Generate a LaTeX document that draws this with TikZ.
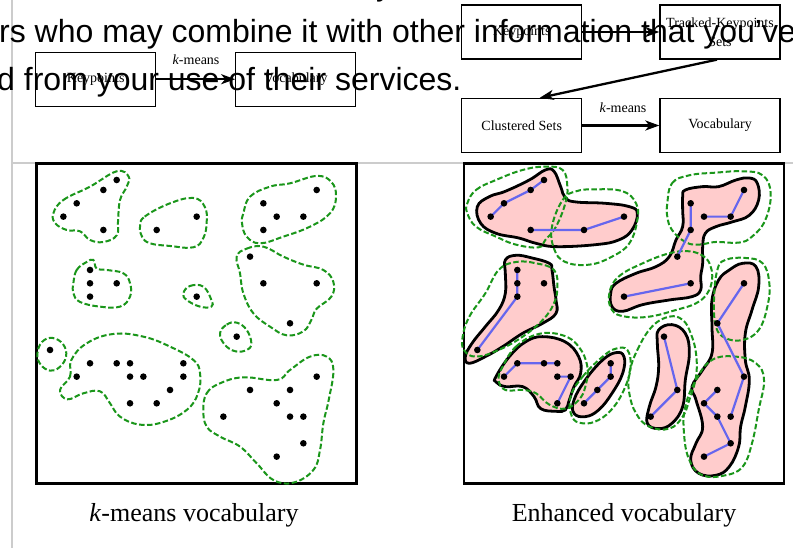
\documentclass[tikz,border=0pt]{standalone}
\usepackage{fontspec}
\setmainfont{Liberation Serif}
\newfontfamily\websans{Liberation Sans}
\usetikzlibrary{arrows.meta,calc}

\definecolor{pinkfill}{RGB}{255,204,204}
\definecolor{dgreen}{RGB}{26,150,26}
\definecolor{blueln}{RGB}{102,102,238}
\definecolor{rulegray}{RGB}{204,204,204}

\tikzset{
 flowbox/.style={draw, line width=1.3pt, minimum width=120pt, minimum height=54pt, inner sep=0pt, font=\fontsize{14}{19}\selectfont, align=center},
 flowarrow/.style={line width=2.3pt, -{Stealth[length=14pt,width=10pt,inset=4pt]}},
 panel/.style={line width=2.8pt},
 kclust/.style={dgreen, line width=2pt, dash pattern=on 5.5pt off 2.5pt},
 tset/.style={fill=pinkfill, draw=black, line width=2.8pt},
 chain/.style={blueln, line width=2.2pt},
 webtext/.style={font=\websans\fontsize{32}{36}\selectfont, anchor=base west, inner sep=0pt},
 captext/.style={font=\fontsize{26}{30}\selectfont, anchor=base, inner sep=0pt},
 lbl/.style={font=\fontsize{14}{16}\selectfont, anchor=base, inner sep=0pt},
 blob/.style={smooth cycle, tension=0.7},
}

\begin{document}
\begin{tikzpicture}[x=1pt,y=-1pt]
\useasboundingbox (0,0) rectangle (793,548);
\fill[white] (0,0) rectangle (793,548);

% page rules
\draw[rulegray, line width=2pt] (11.5,0) -- (11.5,548);
\draw[rulegray, line width=2pt] (11.5,163) -- (793,163);

% ---------- top-left flow ----------
\node[flowbox] (kp1) at (95.7,79.2) {Keypoints};
\node[flowbox] (voc1) at (295.8,79.2) {Vocabulary};
\draw[flowarrow] (kp1.east) -- (voc1.west);
\node[lbl] (km1) at (196,65) {\textit{k}-means};

% ---------- top-right flow ----------
\node[flowbox] (kp2) at (521.7,32) {Keypoints};
\node[flowbox] (trk) at (720,32) {Tracked-Keypoints\\Sets};
\node[flowbox] (cls) at (521.7,125.5) {Clustered Sets};
\node[flowbox] (voc2) at (720,125.5) {Vocabulary};
\draw[flowarrow] (kp2.east) -- (trk.west);
\draw[flowarrow] ($(trk.south)+(-3,0)$) -- ($(cls.north)+(18,0)$);
\draw[flowarrow] (cls.east) -- (voc2.west);
\node[lbl] (km2) at (623,113) {\textit{k}-means};

% ---------- left panel ----------
\begin{scope}[shift={(36.7pt,-483.3pt)}, x=13.333pt, y=13.333pt]
\draw[panel] (0,0) rectangle (24,24);
\draw[kclust] plot[blob] coordinates {(1.25,20.25) (2,21.25) (4,22.25) (6,23.4) (6.9,23) (6.75,22.25) (6.25,21.25) (6.1,19.75) (6,18.6) (5,18.1) (4,18.25) (3.25,18.9) (2.25,19) (1.4,19.5)};
\draw[kclust] plot[blob] coordinates {(7.75,19.25) (8.1,20) (10,21) (11.75,21.4) (12.6,20.75) (12.75,19.6) (12.5,18.4) (11.75,17.7) (10,17.8) (8.5,18) (7.9,18.5)};
\draw[kclust] plot[blob] coordinates {(15.5,20.25) (16,21.5) (17.5,22.25) (19,22.5) (21,23.05) (22.1,22.6) (22.45,21.5) (22,20.25) (20.5,19.25) (18.5,18.5) (16.75,18) (15.75,18.5) (15.4,19.5)};
\draw[kclust] plot[blob] coordinates {(2.75,15) (3,16) (3.75,16.6) (4.25,16.75) (4.5,16.1) (5.25,16) (6.5,15.75) (7,15) (7,14) (6.25,13.25) (4.75,13.25) (3.25,13.6) (2.75,14.25)};
\draw[kclust] plot[blob] coordinates {(11,14.25) (11.5,14.8) (12.5,14.75) (13.1,13.75) (13.1,13.25) (12.25,13.25) (11.25,13.75)};
\draw[kclust] plot[blob] coordinates {(15,17) (15.75,17.6) (17,17.75) (18.5,17) (20,16.4) (21.5,16) (22.25,15.1) (22.1,14) (21,13.1) (20.6,12.25) (20,11.4) (18.75,11.1) (17.5,11.75) (16.25,12.75) (15.5,14.25) (15.25,15.75)};
\draw[kclust] plot[blob] coordinates {(13.75,11.25) (14.25,11.9) (15,12.05) (15.75,11.5) (16.1,10.5) (15.75,10) (14.9,9.9) (14.1,10.4)};
\draw[kclust] plot[blob] coordinates {(0.05,9.7) (0.4,10.6) (1.2,10.9) (2,10.4) (2.2,9.5) (1.7,8.7) (1,8.45) (0.3,8.9)};
\draw[kclust] plot[blob] coordinates {(1.75,7) (2.5,8) (2.6,9.25) (3.75,10.5) (5.75,11.2) (8,11) (10,10.25) (11.75,9.25) (12.25,8.25) (12.1,6.75) (11.25,5.5) (9.5,4.6) (7.75,4.4) (6.25,5) (5.5,6) (4.75,6.9) (3.5,6.75) (2.3,6.3)};
\draw[kclust] plot[blob] coordinates {(12.5,5.5) (12.75,6.75) (13.75,7.5) (15.5,7.95) (18,7.75) (19,8.5) (20.5,9.5) (21.75,9.5) (22.25,8.5) (21.9,6.25) (21.5,4.5) (21.25,2.5) (20.75,1) (19.25,0.05) (17.75,0.25) (16.5,1.5) (15.25,2.75) (13.75,3.5) (12.75,4.25)};
\foreach \p in {(6,22.75),(5,22),(3,21),(2,20),(5,19),(9,19),(12,20),(21,22),(17,21),(18,20),(20,20),(17,19),(4,16),(4,15),(6,15),(4,14),(12,14),(16,17),(17,15),(21,15),(19,12),(15,11),(1,10),(4,9),(6,9),(7,9),(11,9),(3,8),(7,8),(8,8),(11,8),(10,7),(7,6),(9,6),(21,8),(16,7),(19,7),(18,6),(14,5),(19,5),(20,5),(20,3),(18,2)}
  \fill \p circle[radius=3.3pt];
\end{scope}

% ---------- right panel ----------
\begin{scope}[shift={(464pt,-483.3pt)}, x=13.333pt, y=13.333pt]
\draw[panel] (0,0) rectangle (24,24);
\draw[tset] plot[blob] coordinates {(1,20.75) (1.9,21.5) (3.1,21.9) (4.9,22.75) (6.1,23.5) (6.75,23.4) (7.25,22.25) (7.6,21.4) (8.4,21.1) (10.6,21) (12.4,20.75) (13,20.25) (12.6,19) (11.6,18.25) (9.9,17.9) (6.9,17.75) (5.4,18) (4.1,18.4) (2.4,18.75) (1.25,19.5)};
\draw[tset] plot[blob] coordinates {(16.6,22) (17.9,22.25) (19.1,22.25) (20.4,22.75) (21.4,22.9) (22,22.5) (22.1,21.25) (21.4,20.1) (20.1,19.6) (18.9,19.25) (18.1,18.75) (17.9,17.75) (17.9,16.5) (17.75,15.5) (17.75,14.5) (17.1,14) (15.4,13.75) (13.4,13.4) (11.9,12.9) (11.1,13.25) (11,14.25) (11.4,15) (12.9,15.75) (14.4,16.25) (15.4,17) (15.9,18.25) (16.4,19.25) (16.4,20.5) (16.4,21.5)};
\draw[tset] plot[blob] coordinates {(3.1,16.75) (3.9,17.1) (5.1,16.9) (6.4,16.5) (6.6,16) (6.75,14.75) (6.9,13.75) (6.9,12.75) (5.9,12) (4.4,11.25) (2.9,10.25) (1.6,9.5) (0.4,9) (0.1,9.5) (0.6,10.5) (1.6,11.75) (2.6,13) (3.1,14.25) (3.1,15.75)};
\draw[tset] plot[blob] coordinates {(2.4,8) (3.4,9.5) (4.6,10.6) (5.9,11) (7.6,10.6) (8.6,9.5) (8.75,8.25) (8.25,7.25) (7.9,6.25) (7.6,5.5) (6.9,5.4) (5.75,5.6) (5.25,6.5) (4.4,7.25) (3.1,7.25) (2.4,7.6)};
\draw[tset] plot[blob] coordinates {(8.25,6.25) (9.1,7.75) (10.4,9.25) (11.4,9.8) (12,9.5) (11.9,8.25) (11.1,6.75) (10.1,5.5) (9.1,5) (8.25,5.25)};
\draw[tset] plot[blob] coordinates {(14.6,11.5) (15.6,11.9) (16.6,11.25) (16.9,9.75) (16.6,7.75) (16.4,5.75) (15.6,4.5) (14.6,4.1) (13.75,4.5) (13.9,5.75) (14.4,7.25) (14.6,8.75) (14.5,10.5)};
\draw[tset] plot[blob] coordinates {(19.9,16) (20.9,16.5) (21.9,16.25) (22.1,14.75) (21.6,13) (21.1,11.25) (21.1,9.25) (21.4,7.75) (21.1,5.75) (20.75,4.25) (20.6,2.75) (19.9,1.25) (18.9,0.6) (17.6,0.75) (17,1.75) (17.4,3) (17.9,4.25) (17.4,6.25) (17.1,7.25) (17.9,8.5) (18.6,9.75) (18.6,11.75) (18.6,13.75) (19.1,15.25)};
% k-means clusters
\draw[kclust] plot[blob] coordinates {(0.25,21) (0.9,22) (2.4,22.75) (4.4,23.5) (6.1,23.75) (7.4,23.5) (7.75,22.25) (7.6,21) (6.9,19.25) (6.1,18.25) (5.6,17.7) (3.9,17.9) (2.4,18.5) (0.9,19.25) (0.25,20.25)};
\draw[kclust] plot[blob] coordinates {(6.6,19.25) (7.4,21.25) (8.4,21.9) (9.9,22.05) (11.9,21.9) (12.9,21) (13,19.75) (12.4,18) (11.1,17) (9.4,16.4) (7.6,16.6) (6.75,17.6)};
\draw[kclust] plot[blob] coordinates {(15.25,21) (15.6,22.5) (16.9,23.1) (18.9,23.3) (20.9,23.4) (22.4,23.1) (23,21.75) (22.6,19.75) (21.6,18.5) (20.6,18.05) (18.9,18.1) (17.6,17.9) (16.6,18.1) (15.6,19) (15.25,20)};
\draw[kclust] plot[blob] coordinates {(10.9,14.25) (11.6,15.5) (13.4,16.5) (15.4,17.25) (16.9,17.4) (18,17) (18.5,16.25) (18.6,15.25) (18.25,14.25) (17.4,13.5) (15.9,13) (13.9,12.5) (12.1,12.5) (11.1,13)};
\draw[kclust] plot[blob] coordinates {(18.75,13.75) (19,16) (19.6,16.75) (21.1,16.9) (22.4,16.5) (22.9,15) (22.75,13.25) (22.1,11.5) (20.9,10.75) (19.6,10.9) (18.9,11.75)};
\draw[kclust] plot[blob] coordinates {(-0.1,11) (0.4,12.5) (1.6,14.25) (2.6,16) (3.9,16.6) (5.4,16.5) (6.75,16) (7,14.75) (6.75,13.5) (5.9,12.25) (4.4,11) (2.6,10) (0.9,9.5) (0,10)};
\draw[kclust] plot[blob] coordinates {(2.9,8.75) (3.9,10.25) (5.6,11.2) (7.4,11.1) (8.6,10.25) (9.25,8.75) (9.1,7.25) (8.6,6.25) (7.6,5.6) (6.4,5.9) (5.4,6.75) (4.4,7) (3.1,7) (2.6,7.75)};
\draw[kclust] plot[blob] coordinates {(8,6.5) (8.9,8) (10.4,9.5) (11.4,10.1) (12.25,10) (12.5,8.75) (12.1,7.25) (11.25,5.75) (10.1,4.75) (8.9,4.5) (8.1,5)};
\draw[kclust] plot[blob] coordinates {(12.4,8.25) (13,10) (14.1,11.75) (15.4,12.5) (16.4,12.25) (17,11.25) (17.4,9.75) (17.4,8) (16.9,6.25) (16.4,5) (15.4,4.1) (13.9,4.25) (12.9,5.25) (12.4,6.75)};
\draw[kclust] plot[blob] coordinates {(16.6,5.75) (17.4,7.75) (18.6,9.25) (20.4,9.5) (21.9,9) (22.5,7.75) (22.1,5.5) (21.6,3) (20.9,1.25) (19.6,0.6) (17.9,0.6) (16.9,1.75) (16.5,3.75)};
% tracked chains
\draw[chain] (2,20) -- (3,21) -- (5,22) -- (6,22.75);
\draw[chain] (5,19) -- (9,19) -- (12,20);
\draw[chain] (17,21) -- (17,19) -- (16,17);
\draw[chain] (18,20) -- (20,20) -- (21,22);
\draw[chain] (12,14) -- (17,15);
\draw[chain] (21,15) -- (19,12) -- (21,8) -- (20,5);
\draw[chain] (19,7) -- (18,6) -- (19,5) -- (20,3) -- (18,2);
\draw[chain] (15,11) -- (16,7) -- (14,5);
\draw[chain] (4,16) -- (4,15) -- (4,14) -- (1,10);
\draw[chain] (3,8) -- (4,9) -- (6,9) -- (7,9);
\draw[chain] (7,8) -- (8,8) -- (7,6);
\draw[chain] (11,9) -- (11,8) -- (10,7) -- (9,6);
\foreach \p in {(6,22.75),(5,22),(3,21),(2,20),(5,19),(9,19),(12,20),(21,22),(17,21),(18,20),(20,20),(17,19),(4,16),(4,15),(6,15),(4,14),(12,14),(16,17),(17,15),(21,15),(19,12),(15,11),(1,10),(4,9),(6,9),(7,9),(11,9),(3,8),(7,8),(8,8),(11,8),(10,7),(7,6),(9,6),(21,8),(16,7),(19,7),(18,6),(14,5),(19,5),(20,5),(20,3),(18,2)}
  \fill \p circle[radius=3.3pt];
\end{scope}

% captions
\node[captext] (cap1) at (194,521.5) {\textit{k}-means vocabulary};
\node[captext] (cap2) at (624,521.5) {Enhanced vocabulary};

% overlaid web page text
\node[webtext] (web0) at (376,-4) {y};
\node[webtext] (web1) at (-1,43) {rs who may combine it with other information that you’ve};
\node[webtext] (web2) at (-3,90.5) {d from your use of their services.};
\end{tikzpicture}
\end{document}
